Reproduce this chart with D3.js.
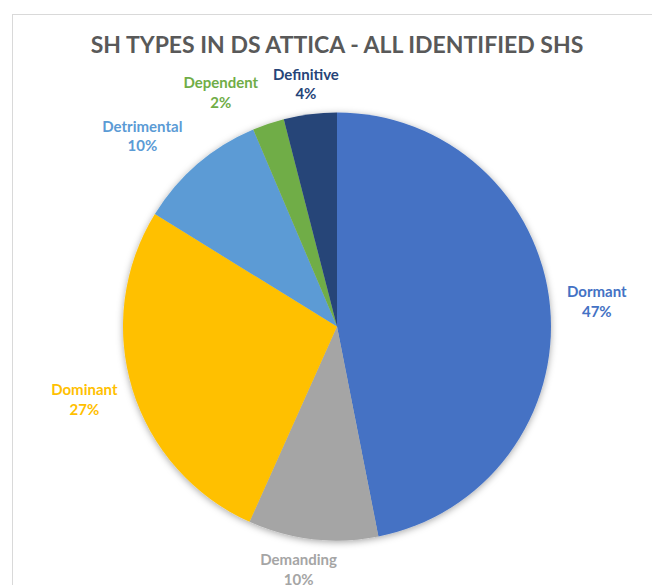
<!DOCTYPE html>
<html>
<head>
<meta charset="utf-8">
<script src="https://cdn.jsdelivr.net/npm/d3@7"></script>
<style>
  html, body { margin: 0; padding: 0; background: #ffffff; }
  svg { display: block; }
  text { font-family: Lato, "Open Sans", sans-serif; font-weight: 700; }
</style>
</head>
<body>
<svg id="chart" width="652" height="585"></svg>
<script>
// Stakeholder types, share of all identified stakeholders (%)
const categories = ["Dormant", "Demanding", "Dominant", "Detrimental", "Dependent", "Definitive"];
const shares = [46.9, 9.8, 27.1, 9.8, 2.4, 4.0];
const colors = ["#4472C4", "#A5A5A5", "#FFC000", "#5B9BD5", "#70AD47", "#264478"];
const title = "SH TYPES IN DS ATTICA - ALL IDENTIFIED SHS";

// Small hand adjustments for labels that were moved to avoid crowding
const labelNudge = { Demanding: [-8, -5], Detrimental: [-18, 0], Dependent: [-30, 4], Definitive: [2, 7] };

const W = 652, H = 585;
const cx = 337, cy = 326.5, radius = 214;
const svg = d3.select("#chart");

// chart area frame
svg.append("rect")
  .attr("x", 12.5).attr("y", 14.5)
  .attr("width", W + 20).attr("height", H + 20)
  .attr("fill", "#ffffff")
  .attr("stroke", "#d9d9d9").attr("stroke-width", 1);

// soft shadow under the pie
const defs = svg.append("defs");
const f = defs.append("filter").attr("id", "pieShadow")
  .attr("x", "-10%").attr("y", "-10%").attr("width", "120%").attr("height", "120%");
f.append("feDropShadow")
  .attr("dx", 0).attr("dy", 1.5).attr("stdDeviation", 3.5)
  .attr("flood-color", "#000").attr("flood-opacity", 0.35);

svg.append("text")
  .attr("x", cx).attr("y", 52.5)
  .attr("text-anchor", "middle")
  .attr("fill", "#595959")
  .style("font-size", "23px")
  .text(title);

const data = categories.map((c, i) => ({ name: c, value: shares[i], color: colors[i] }));
const total = d3.sum(shares);
const pct = d3.format(".0%");

const pie = d3.pie().sort(null).value(d => d.value);
const arcs = pie(data);
const arc = d3.arc().innerRadius(0).outerRadius(radius);

const g = svg.append("g").attr("transform", `translate(${cx},${cy})`);
g.append("g").attr("filter", "url(#pieShadow)")
  .selectAll("path").data(arcs).join("path")
  .attr("d", arc)
  .attr("fill", d => d.data.color);

// outside-end labels: box touches a point just beyond the rim
const gap = 17, boxH = 39, lineGap = 19.5;
const labels = g.append("g");
arcs.forEach(a => {
  const mid = (a.startAngle + a.endAngle) / 2;
  const s = Math.sin(mid), c = Math.cos(mid);
  const t = labels.append("text")
    .attr("text-anchor", "middle")
    .attr("fill", a.data.color)
    .style("font-size", "15px");
  t.append("tspan").attr("x", 0).attr("dy", 0).text(a.data.name);
  t.append("tspan").attr("x", 0).attr("dy", lineGap).text(pct(a.data.value / total));
  const w = t.node().getBBox().width;
  const nudge = labelNudge[a.data.name] || [0, 0];
  const px = (radius + gap) * s, py = -(radius + gap) * c;
  const lx = px + s * w / 2 + nudge[0];
  const ly = py - c * boxH / 2 + nudge[1];
  t.attr("transform", `translate(${lx},${ly - 5})`);
});
</script>
</body>
</html>
